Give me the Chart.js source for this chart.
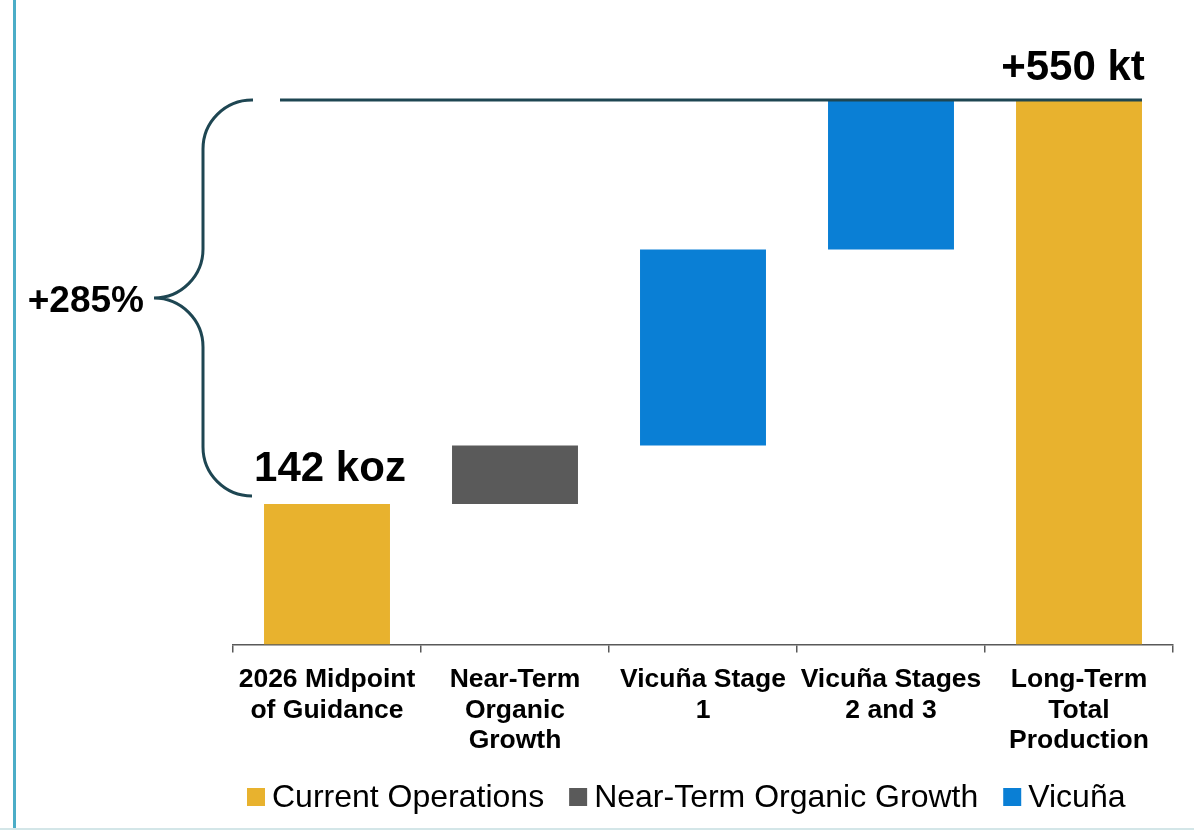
<!DOCTYPE html>
<html>
<head>
<meta charset="utf-8">
<script src="https://cdn.jsdelivr.net/npm/chart.js@4.4.1/dist/chart.umd.min.js"></script>
<style>
  html, body { margin: 0; padding: 0; background: #fff; }
  #wrap { position: relative; width: 1194px; height: 830px; overflow: hidden; }
  #leftBar { position: absolute; left: 13px; top: 0; width: 3px; height: 829px; background: #4BADC7; }
  #bottomBar { position: absolute; left: 0; top: 828px; width: 1194px; height: 2px; background: #D3E6E8; }
  #c { position: absolute; left: 0; top: 0; }
</style>
</head>
<body>
<div id="wrap">
  <div id="leftBar"></div>
  <div id="bottomBar"></div>
  <canvas id="c" width="1194" height="830"></canvas>
</div>
<script>
// ---- data ----
const categories = [
  ['2026 Midpoint', 'of Guidance'],
  ['Near-Term', 'Organic', 'Growth'],
  ['Vicuña Stage', '1'],
  ['Vicuña Stages', '2 and 3'],
  ['Long-Term', 'Total', 'Production']
];
const seriesNames = ['Current Operations', 'Near-Term Organic Growth', 'Vicuña'];
const currentOperations = [[0, 142], null, null, null, [0, 550]];
const nearTermOrganicGrowth = [null, [142, 201], null, null, null];
const vicuna = [null, null, [201, 399], [399, 550], null];
const startLabel = '142 koz';
const endLabel = '+550 kt';
const growthLabel = '+285%';
const startValue = 142;
const totalValue = 550;

const FONT = "'Liberation Sans', Arial, Helvetica, sans-serif";
const colors = ['#E8B22E', '#5A5A5A', '#0A7FD5'];
const annoColor = '#1E4652';

const annotations = {
  id: 'annotations',
  afterDatasetsDraw(chart) {
    const ctx = chart.ctx;
    const y = chart.scales.y;
    const meta0 = chart.getDatasetMeta(0);
    const firstBar = meta0.data[0];
    const lastBar = meta0.data[4];
    const yTop = y.getPixelForValue(totalValue);
    const yStart = y.getPixelForValue(startValue);
    ctx.save();
    // top reference line
    ctx.strokeStyle = annoColor;
    ctx.lineWidth = 3;
    ctx.beginPath();
    ctx.moveTo(280, yTop);
    ctx.lineTo(lastBar.x + lastBar.width / 2, yTop);
    ctx.stroke();
    // brace
    const yB = yStart - 8;
    const yMid = (yTop + yB) / 2;
    const xEnd = 253, xV = 203, xTip = 154, r = 49;
    ctx.beginPath();
    ctx.moveTo(xEnd, yTop);
    ctx.arcTo(xV, yTop, xV, yTop + r, r);
    ctx.lineTo(xV, yMid - r);
    ctx.arcTo(xV, yMid, xTip, yMid, r);
    ctx.arcTo(xV, yMid, xV, yMid + r, r);
    ctx.lineTo(xV, yB - r);
    ctx.arcTo(xV, yB, xEnd, yB, r);
    ctx.stroke();
    // texts
    ctx.fillStyle = '#000';
    ctx.textBaseline = 'alphabetic';
    ctx.font = 'bold 37px ' + FONT;
    ctx.textAlign = 'right';
    ctx.fillText(growthLabel, 144, yMid + 14);
    ctx.font = 'bold 42px ' + FONT;
    ctx.textAlign = 'center';
    ctx.fillText(startLabel, firstBar.x + 3, yStart - 23);
    ctx.fillText(endLabel, lastBar.x - 6, yTop - 20);

    // legend
    ctx.font = '32px ' + FONT;
    ctx.textAlign = 'left';
    ctx.textBaseline = 'middle';
    let x = 247;
    const ly = 797;
    chart.data.datasets.forEach((ds) => {
      ctx.fillStyle = ds.backgroundColor;
      ctx.fillRect(x, ly - 9, 18, 18);
      ctx.fillStyle = '#000';
      ctx.fillText(ds.label, x + 25, ly + 1);
      x += 25 + ctx.measureText(ds.label).width + 25;
    });
    ctx.restore();
  }
};

const mk = (label, data, color) => ({
  label, data, backgroundColor: color, borderWidth: 0,
  grouped: false, categoryPercentage: 1, barPercentage: 0.67
});

new Chart(document.getElementById('c'), {
  type: 'bar',
  data: {
    labels: categories,
    datasets: [
      mk(seriesNames[0], currentOperations, colors[0]),
      mk(seriesNames[1], nearTermOrganicGrowth, colors[1]),
      mk(seriesNames[2], vicuna, colors[2])
    ]
  },
  options: {
    responsive: false,
    animation: false,
    layout: { padding: { left: 233, right: 21, top: 100, bottom: 62 } },
    scales: {
      x: {
        grid: { display: true, drawOnChartArea: false, drawTicks: true, tickLength: 8, color: '#595959', lineWidth: 1.5, offset: true },
        border: { display: true, color: '#595959', width: 1.5 },
        ticks: { color: '#000', font: { family: FONT, size: 26.5, weight: 'bold', lineHeight: 1.15 }, padding: 12, maxRotation: 0, autoSkip: false }
      },
      y: { display: false, min: 0, max: 550 }
    },
    plugins: {
      legend: { display: false },
      tooltip: { enabled: false }
    }
  },
  plugins: [annotations]
});
</script>
</body>
</html>
